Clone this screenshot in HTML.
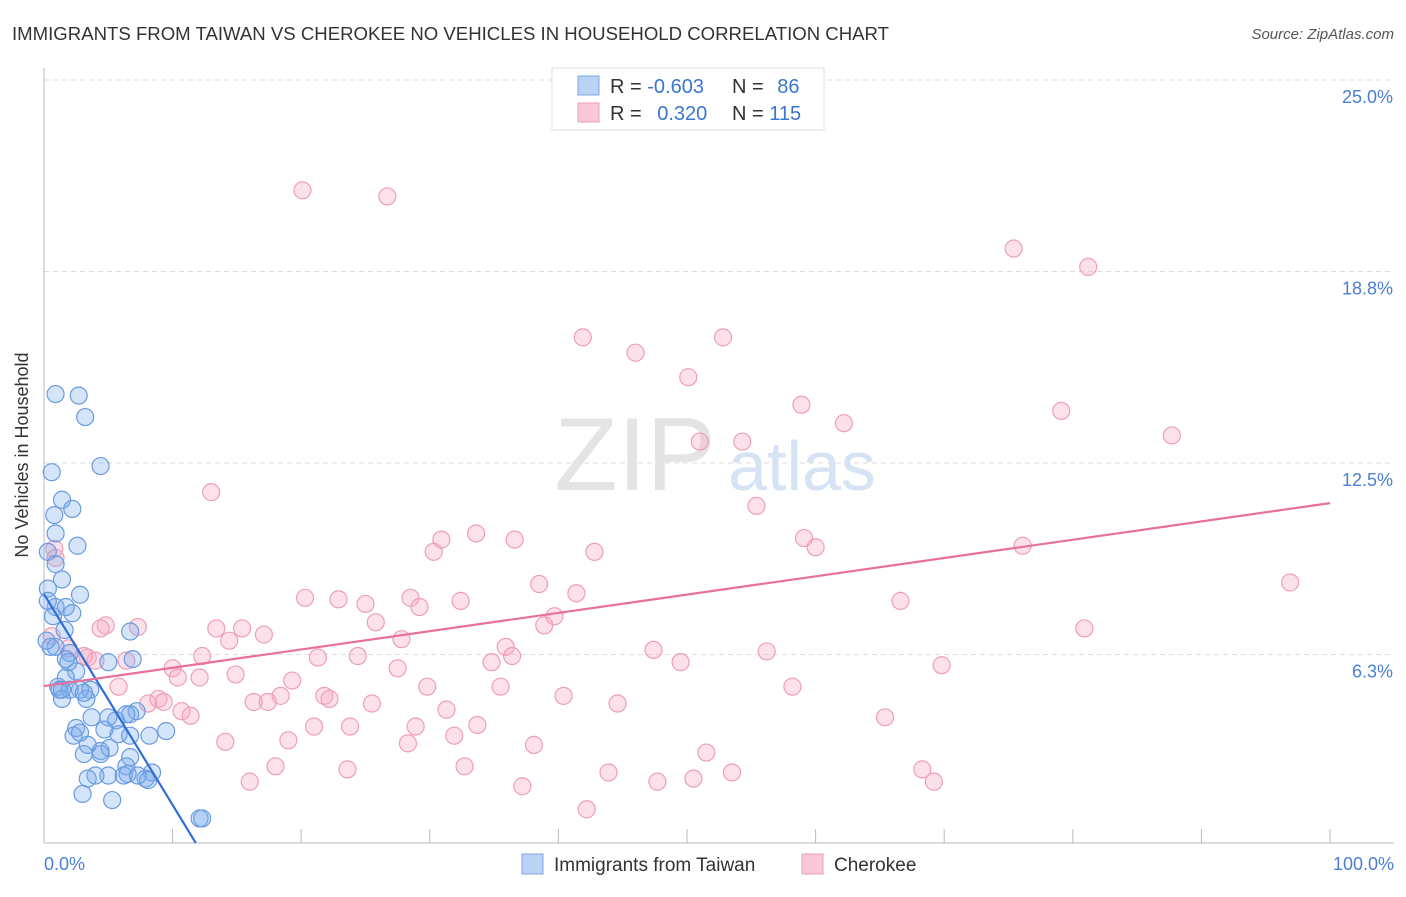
<!DOCTYPE html>
<html><head><meta charset="utf-8">
<style>
body{margin:0;background:#fff;font-family:"Liberation Sans",sans-serif;}
svg text{font-family:"Liberation Sans",sans-serif;}
</style></head>
<body>
<svg id="chart" width="1406" height="892" xmlns="http://www.w3.org/2000/svg">
<text x="12" y="40" font-size="18" fill="#333" textLength="877" lengthAdjust="spacingAndGlyphs">IMMIGRANTS FROM TAIWAN VS CHEROKEE NO VEHICLES IN HOUSEHOLD CORRELATION CHART</text>
<text x="1394" y="39" font-size="15" fill="#555" text-anchor="end" font-style="italic">Source: ZipAtlas.com</text>
<g id="grid"></g>
<text x="635" y="490" font-size="104" fill="#e4e4e4" font-family="Liberation Serif" text-anchor="middle">ZIP</text>
<text x="802" y="490" font-size="70" fill="#d5e3f5" text-anchor="middle">atlas</text>
<g id="pink"></g>
<g id="blue"></g>
<g id="trends"></g>
<text x="28" y="455" font-size="18" fill="#333" text-anchor="middle" transform="rotate(-90 28 455)">No Vehicles in Household</text>
<text x="44" y="870" font-size="18" fill="#4a7fd4">0.0%</text>
<text x="1394" y="870" font-size="18" fill="#4a7fd4" text-anchor="end">100.0%</text>
<g>
<rect x="552" y="68" width="272" height="62" fill="#fff" stroke="#ddd"/>
<rect x="578" y="76" width="21" height="19" fill="#b9d3f5" stroke="#7aa7e6"/>
<rect x="578" y="103" width="21" height="19" fill="#fbc8d7" stroke="#ee9fb8"/>
<text x="610" y="93" font-size="20" fill="#333">R = <tspan fill="#3a76cf">-0.603</tspan></text>
<text x="732" y="93" font-size="20" fill="#333">N = <tspan fill="#3a76cf" dx="8">86</tspan></text>
<text x="610" y="120" font-size="20" fill="#333">R = <tspan fill="#3a76cf" dx="10">0.320</tspan></text>
<text x="732" y="120" font-size="20" fill="#333">N = <tspan fill="#3a76cf">115</tspan></text>
</g>
<g>
<rect x="522" y="854" width="21" height="20" fill="#b9d3f5" stroke="#7aa7e6"/>
<text x="554" y="871" font-size="19" fill="#333">Immigrants from Taiwan</text>
<rect x="802" y="854" width="21" height="20" fill="#fbc8d7" stroke="#ee9fb8"/>
<text x="834" y="871" font-size="19" fill="#333">Cherokee</text>
</g>
</svg>
<script>
const yTicks=[6.25,12.5,18.75,25];
const yTickLabels=["6.3%","12.5%","18.8%","25.0%"];
const xTicks=[0,10,20,30,40,50,60,70,80,90,100];
const blueX=[0.9,2.7,3.2,4.4,0.6,1.4,2.2,0.8,0.9,2.6,0.3,0.9,1.4,0.3,2.8,0.9,1.7,2.2,0.7,6.7,1.6,0.9,2.0,1.7,5.0,6.9,2.5,1.7,2.8,1.1,2.0,3.6,1.4,3.3,3.7,5.6,7.2,6.7,6.4,5.0,2.5,2.3,4.7,5.8,6.7,8.2,9.5,3.4,4.4,5.1,4.4,3.1,6.7,6.4,5.0,4.0,3.4,8.4,6.2,6.5,7.9,7.3,8.1,3.0,5.3,12.1,12.3,1.2,0.5,0.2,0.3,1.4,2.8,1.9,3.1];
const blueY=[14.75,14.7,14.0,12.4,12.2,11.3,11.0,10.8,10.2,9.8,9.6,9.2,8.7,8.4,8.2,7.8,7.8,7.6,7.5,7.0,7.05,6.5,6.3,6.1,6.0,6.1,5.7,5.5,5.1,5.2,5.1,5.1,4.8,4.8,4.2,4.1,4.4,4.3,4.3,4.2,3.85,3.6,3.8,3.65,3.6,3.6,3.75,3.3,3.1,3.2,3.0,3.0,2.9,2.6,2.3,2.3,2.2,2.4,2.3,2.35,2.2,2.3,2.15,1.7,1.5,0.9,0.9,5.1,6.5,6.7,8.0,5.1,3.7,6.0,5.0];
const pinkX=[20.1,26.7,75.4,81.2,41.9,52.8,46.0,50.1,58.9,79.1,62.2,51.0,54.3,87.7,13.0,55.4,33.6,30.9,36.6,59.1,30.3,42.8,60.0,76.1,0.8,0.9,38.5,96.9,20.3,22.9,28.5,25.0,32.4,41.4,29.2,66.6,25.8,38.9,39.7,4.8,7.3,13.4,15.4,17.1,4.4,27.8,35.9,80.9,0.6,47.4,56.2,1.9,3.4,4.0,3.1,6.4,12.3,14.4,21.3,24.4,36.4,34.8,49.5,69.8,10.0,27.5,10.4,14.9,19.3,12.1,5.8,29.8,35.5,58.2,18.4,21.8,22.2,16.3,17.4,8.1,8.9,9.3,25.5,40.4,44.6,10.7,11.4,31.3,65.4,23.8,21.0,28.9,33.7,14.1,19.0,31.9,28.3,38.1,51.5,18.0,23.6,32.7,16.0,43.9,53.5,47.7,50.5,68.3,37.2,69.2,42.2];
const pinkY=[21.4,21.2,19.5,18.9,16.6,16.6,16.1,15.3,14.4,14.2,13.8,13.2,13.2,13.4,11.55,11.1,10.2,10.0,10.0,10.05,9.6,9.6,9.75,9.8,9.7,9.4,8.55,8.6,8.1,8.05,8.1,7.9,8.0,8.25,7.8,8.0,7.3,7.2,7.5,7.2,7.15,7.1,7.1,6.9,7.1,6.75,6.5,7.1,6.85,6.4,6.35,6.45,6.15,6.05,6.2,6.05,6.2,6.7,6.15,6.2,6.2,6.0,6.0,5.9,5.8,5.8,5.5,5.6,5.4,5.5,5.2,5.2,5.2,5.2,4.9,4.9,4.8,4.7,4.7,4.65,4.8,4.7,4.65,4.9,4.65,4.4,4.25,4.45,4.2,3.9,3.9,3.9,3.95,3.4,3.45,3.6,3.35,3.3,3.05,2.6,2.5,2.6,2.1,2.4,2.4,2.1,2.2,2.5,1.95,2.1,1.2];
const blueTrend=[8.22,-0.688];
const pinkTrend=[5.22,0.0597];
const xs=v=>44+v*12.86, ys=v=>846-v*30.64;
const NS="http://www.w3.org/2000/svg";
function mk(t,a,p){const e=document.createElementNS(NS,t);for(const k in a)e.setAttribute(k,a[k]);p.appendChild(e);return e;}
const grid=document.getElementById('grid');
yTicks.forEach((t,i)=>{
 const l=mk('line',{x1:44,x2:1394,y1:ys(t),y2:ys(t),stroke:'#ddd','stroke-dasharray':'5,4'},grid);
 
 
 const tx=mk('text',{x:1393,y:ys(t)+23,'font-size':18,fill:'#4a7fd4','text-anchor':'end'},grid);
 tx.textContent=yTickLabels[i];
 
 
});
const ax=mk('line',{x1:44,x2:1394,y1:843,y2:843,stroke:'#bbb'},grid);


const ay=mk('line',{x1:44,x2:44,y1:68,y2:843,stroke:'#bbb'},grid);


xTicks.forEach(t=>{
 const l=mk('line',{x1:xs(t),x2:xs(t),y1:829,y2:843,stroke:'#bbb'},grid);
 
 
});
function pts(X,Y,g,fill,stroke,name){
 X.forEach((x,i)=>{
  const c=mk('circle',{cx:xs(x),cy:ys(Y[i]),r:8.5,fill:fill,stroke:stroke,'stroke-width':1.2},g);
  
  
 });
}
pts(pinkX,pinkY,document.getElementById('pink'),'rgba(246,170,195,0.35)','#ee9fb8','cherokee-point');
pts(blueX,blueY,document.getElementById('blue'),'rgba(120,170,235,0.32)','#6a9be0','taiwan-point');
const tr=document.getElementById('trends');
const bx2=(0.1-blueTrend[0])/blueTrend[1];
const bl=mk('line',{x1:xs(0),y1:ys(blueTrend[0]),x2:xs(bx2),y2:ys(blueTrend[0]+blueTrend[1]*bx2),stroke:'#2f6fd6','stroke-width':2.2},tr);


const pl=mk('line',{x1:xs(0),y1:ys(pinkTrend[0]),x2:xs(100),y2:ys(pinkTrend[0]+pinkTrend[1]*100),stroke:'#e8709a','stroke-width':2.2},tr);


</script>
</body></html>
